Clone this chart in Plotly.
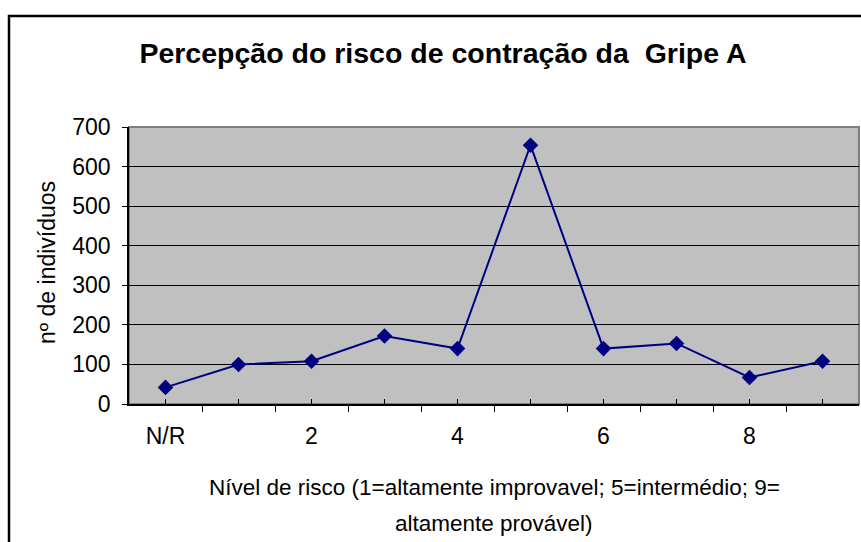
import plotly.graph_objects as go
import numpy as np

# risk level categories and number of respondents
categorias = ["N/R", "1", "2", "3", "4", "5", "6", "7", "8", "9"]
individuos = [42, 100, 108, 172, 140, 654, 140, 153, 67, 108]
rotulos = ["N/R", "", "2", "", "4", "", "6", "", "8", ""]

titulo = "Percepção do risco de contração da  Gripe A"
titulo_x1 = "Nível de risco (1=altamente improvavel; 5=intermédio; 9="
titulo_x2 = "altamente provável)"
titulo_y = "nº de indivíduos"

W, H = 861, 542
L, R, T, B = 129, 859, 127, 404   # plot area in pixels


def px_x(p):
    return (p - L) / (R - L)


def px_y(p):
    return (B - p) / (B - T)


pos = np.arange(len(categorias))
fonte = dict(family="Liberation Sans, Arial", color="black")

fig = go.Figure(go.Scatter(
    x=pos, y=individuos, mode="lines+markers",
    line=dict(color="#000080", width=2),
    marker=dict(symbol="diamond", size=12, color="#000080"),
    showlegend=False,
))

fig.update_xaxes(
    range=[-0.5, len(categorias) - 0.5],
    tickmode="array", tickvals=pos, ticktext=rotulos,
    ticks="inside", ticklen=5, tickcolor="black",
    showline=True, linecolor="black", linewidth=1.5,
    showgrid=False, zeroline=False,
    ticklabelstandoff=11,
    tickfont=dict(size=23, **fonte),
    minor=dict(tickmode="array", tickvals=pos - 0.5, ticks="outside",
               ticklen=6, tickcolor="black", showgrid=False),
)
fig.update_yaxes(
    range=[0, 700], tickmode="linear", tick0=0, dtick=100,
    ticks="outside", ticklen=5, tickcolor="black",
    showline=True, linecolor="black", linewidth=1.5,
    showgrid=True, gridcolor="black", gridwidth=1, zeroline=False,
    ticklabelstandoff=7,
    tickfont=dict(size=23, **fonte),
)

fig.update_layout(
    width=W, height=H,
    margin=dict(l=L, r=W - R, t=T, b=H - B, pad=0),
    paper_bgcolor="white", plot_bgcolor="#c0c0c0",
    title=dict(text="<b>" + titulo + "</b>", x=443 / W, y=1 - 53 / H,
               xanchor="center", yanchor="middle",
               font=dict(size=28.5, **fonte)),
    annotations=[
        dict(text=titulo_x1, xref="paper", yref="paper", x=0.5, y=px_y(488),
             xanchor="center", yanchor="middle", showarrow=False,
             font=dict(size=22.5, **fonte)),
        dict(text=titulo_x2, xref="paper", yref="paper", x=0.5, y=px_y(523),
             xanchor="center", yanchor="middle", showarrow=False,
             font=dict(size=22.5, **fonte)),
        dict(text=titulo_y, xref="paper", yref="paper", x=px_x(47), y=px_y(263),
             xanchor="center", yanchor="middle", textangle=-90, showarrow=False,
             font=dict(size=23, **fonte)),
    ],
    shapes=[
        # grey border of the plot area
        dict(type="rect", xref="paper", yref="paper", x0=0, x1=1, y0=0, y1=1,
             line=dict(color="#808080", width=2), layer="below"),
        # outer chart frame (left and top visible)
        dict(type="path", xref="paper", yref="paper",
             path="M %f %f L %f %f L %f %f" % (px_x(9), px_y(560), px_x(9), px_y(16),
                                              px_x(870), px_y(16)),
             line=dict(color="black", width=2.5)),
    ],
)

# drop the default page margin so the figure sits at the window origin
fig.write_html("out.html", config={"displayModeBar": False},
               post_script="document.body.style.margin='0';")
